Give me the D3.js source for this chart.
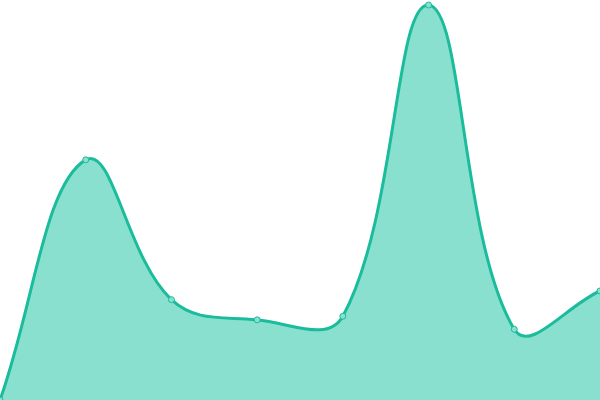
<!DOCTYPE html>
<html><head><meta charset="utf-8">
<script src="https://cdn.jsdelivr.net/npm/d3@7"></script>
<style>html,body{margin:0;padding:0;background:#fff;}svg{display:block;}</style>
</head><body>
<svg id="c" width="600" height="400"></svg>
<script>
const categories = [0, 1, 2, 3, 4, 5, 6, 7];
const values = [0, 60.8, 25.4, 20.3, 21.2, 100, 17.9, 27.6];

const W = 600, H = 400;
const svg = d3.select("#c");
const x = d3.scaleLinear().domain([0, categories.length - 1]).range([0, W]);
const y = d3.scaleLinear().domain([0, 100]).range([400, 5]);
const data = categories.map((c, i) => ({c, v: values[i]}));

// Distance-weighted cubic spline (tension 0.4), implemented as a d3 curve factory
function SplineCurve(context) { this._context = context; }
SplineCurve.prototype = {
  areaStart() { this._line = 0; },
  areaEnd() { this._line = NaN; },
  lineStart() { this._pts = []; },
  point(px, py) { this._pts.push([+px, +py]); },
  lineEnd() {
    const p = this._pts, n = p.length, ctx = this._context, t = 0.4;
    if (!n) return;
    if (this._line) ctx.lineTo(p[0][0], p[0][1]); else ctx.moveTo(p[0][0], p[0][1]);
    const cps = p.map((cur, i) => {
      const prev = p[Math.max(0, i - 1)], next = p[Math.min(n - 1, i + 1)];
      const d01 = Math.hypot(cur[0] - prev[0], cur[1] - prev[1]);
      const d12 = Math.hypot(next[0] - cur[0], next[1] - cur[1]);
      let s01 = d01 / (d01 + d12), s12 = d12 / (d01 + d12);
      if (isNaN(s01)) s01 = 0; if (isNaN(s12)) s12 = 0;
      const fa = t * s01, fb = t * s12;
      return {
        prev: [cur[0] - fa * (next[0] - prev[0]), cur[1] - fa * (next[1] - prev[1])],
        next: [cur[0] + fb * (next[0] - prev[0]), cur[1] + fb * (next[1] - prev[1])]
      };
    });
    for (let i = 1; i < n; i++) {
      const a = cps[i - 1].next, b = cps[i].prev;
      ctx.bezierCurveTo(a[0], a[1], b[0], b[1], p[i][0], p[i][1]);
    }
    if (this._line) ctx.closePath();
    this._line = 1 - this._line;
  }
};
const curve = ctx => new SplineCurve(ctx);

const area = d3.area().x(d => x(d.c)).y0(y(0)).y1(d => y(d.v)).curve(curve);
const line = d3.line().x(d => x(d.c)).y(d => y(d.v)).curve(curve);

svg.append("path").datum(data).attr("d", area).attr("fill", "#8ae0cf");
svg.append("path").datum(data).attr("d", line).attr("fill", "none").attr("stroke", "#1abc9c").attr("stroke-width", 3);
svg.selectAll("circle").data(data).enter().append("circle")
  .attr("cx", d => x(d.c)).attr("cy", d => y(d.v)).attr("r", 3)
  .attr("fill", "#8ae0cf").attr("stroke", "#1abc9c").attr("stroke-width", 1);
</script>
</body></html>
